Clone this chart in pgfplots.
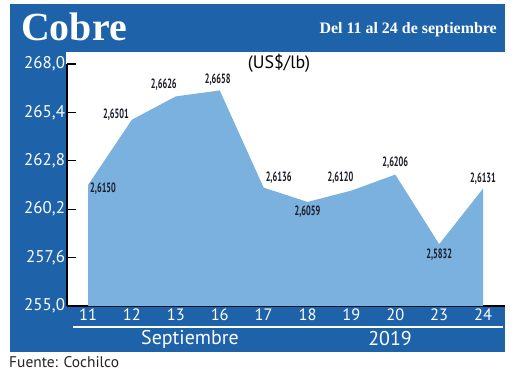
\documentclass[border=0pt]{standalone}
\usepackage{graphicx}
\usepackage{pgfplots}
\pgfplotsset{compat=1.18}
\usepackage{pgfplotstable}
\usepackage{fontspec}
\setmainfont{PT Sans}
\newfontfamily\ptsans{PT Sans}
\newfontfamily\serifb{Liberation Serif}
\definecolor{band}{HTML}{1E62A9}
\definecolor{areac}{HTML}{7AB1DF}
\definecolor{lblc}{HTML}{1C1C28}

\pgfplotstableread{
x y lab dx dy
0 261.50 2,6150 15 -4
1 265.01 2,6501 -16 5
2 266.26 2,6626 -12 12
3 266.58 2,6658 -2 11
4 261.36 2,6136 15 10
5 260.59 2,6059 0 -10
6 261.20 2,6120 -11 13
7 262.06 2,6206 0 12
8 258.32 2,5832 0 -10
9 261.31 2,6131 0 10
}\datatable

\begin{document}
\begin{tikzpicture}[x=1bp,y=1bp]
\useasboundingbox (0,0) rectangle (520,374);
\fill[white] (0,0) rectangle (520,374);
\fill[band] (10,22) rectangle (505,370);
\fill[white] (66,68) rectangle (505,322);
\begin{axis}[
  at={(67bp,68bp)}, anchor=south west,
  width=438bp, height=242bp, scale only axis,
  xmin=-0.48, xmax=9.5, ymin=255, ymax=268,
  axis x line=bottom, axis y line=left,
  axis line style={-, black, line width=1.3bp},
  xtick={0,...,9},
  xticklabels={11,12,13,16,17,18,19,20,23,24},
  ytick={255,257.6,260.2,262.8,265.4,268},
  yticklabels={{255,0},{257,6},{260,2},{262,8},{265,4},{268,0}},
  x tick style={draw=none},
  y tick style={black, line width=1.3bp},
  tick align=inside, major tick length=9bp,
  /pgf/number format/assume math mode=true,
  xticklabel style={white, font=\ptsans\fontsize{16.5}{16.5}\selectfont, anchor=north, yshift=1bp},
  yticklabel style={white, font=\ptsans\fontsize{17}{17}\selectfont, anchor=east, xshift=1.5bp},
  clip mode=individual,
]
\addplot[draw=none, fill=areac,
  nodes near coords={\scalebox{0.62}[1]{\pgfplotspointmeta}},
  point meta=explicit symbolic,
  visualization depends on={\thisrow{dx} \as \dx},
  visualization depends on={\thisrow{dy} \as \dy},
  every node near coord/.append style={anchor=center, xshift=\dx bp, yshift=\dy bp,
    text=lblc, inner sep=0pt, font=\ptsans\bfseries\fontsize{13.5}{13.5}\selectfont},
] table[x=x, y=y, meta=lab]{\datatable} \closedcycle;
\end{axis}
\draw[white, line width=1.2bp] (73,47) -- (503,47);
\node[white, font=\ptsans\fontsize{20}{20}\selectfont] at (190,35) {Septiembre};
\node[white, font=\ptsans\fontsize{20}{20}\selectfont] at (390,35) {2019};
\node[anchor=west, text=black!85, font=\ptsans\fontsize{15.5}{15.5}\selectfont, inner sep=0pt] at (9,12) {Fuente: Cochilco};
\node[anchor=west, white, font=\serifb\bfseries\fontsize{40}{40}\selectfont, inner sep=0pt] at (21,347) {Cobre};
\node[anchor=east, white, font=\serifb\bfseries\fontsize{16}{16}\selectfont, inner sep=0pt] at (497,344) {Del 11 al 24 de septiembre};
\node[black, font=\ptsans\fontsize{18}{18}\selectfont] at (279,311) {(US\$/lb)};
\end{tikzpicture}
\end{document}
